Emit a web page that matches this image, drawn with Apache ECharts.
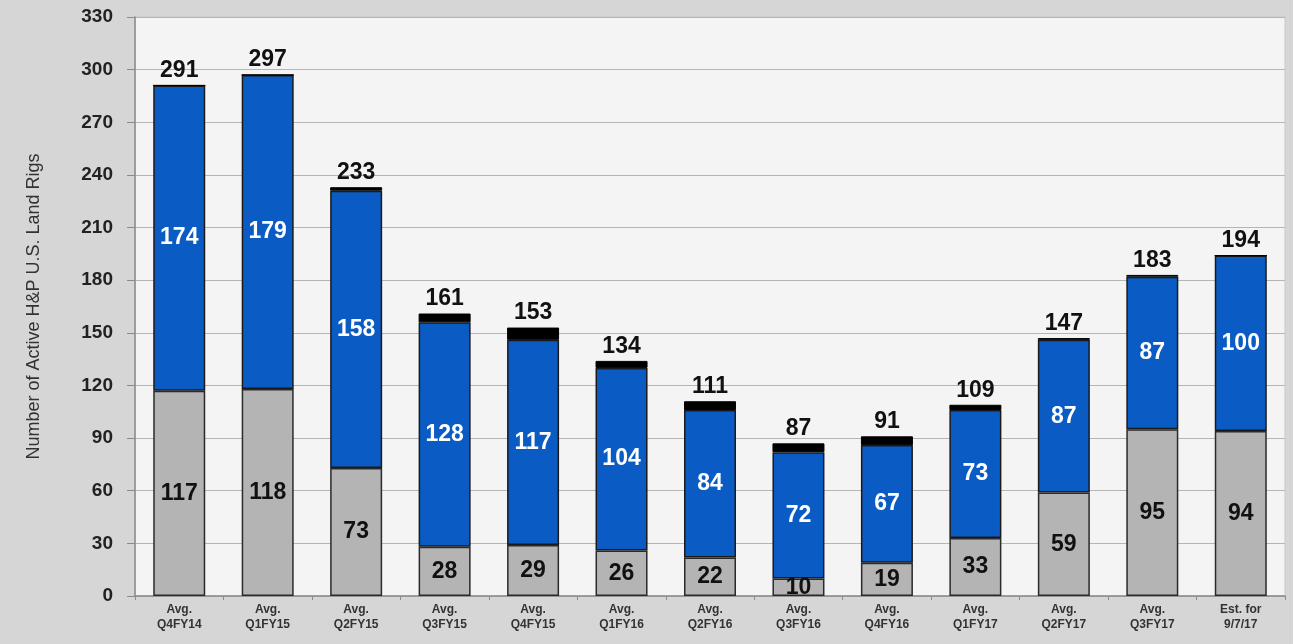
<!DOCTYPE html>
<html><head><meta charset="utf-8">
<script src="https://cdn.jsdelivr.net/npm/echarts@6/dist/echarts.min.js"></script>
<style>html,body{margin:0;padding:0;background:#d6d6d6;}#c{width:1293px;height:644px;}</style>
</head><body><div id="c"></div>
<script>
var categories = ['Avg.\nQ4FY14','Avg.\nQ1FY15','Avg.\nQ2FY15','Avg.\nQ3FY15','Avg.\nQ4FY15','Avg.\nQ1FY16','Avg.\nQ2FY16','Avg.\nQ3FY16','Avg.\nQ4FY16','Avg.\nQ1FY17','Avg.\nQ2FY17','Avg.\nQ3FY17','Est. for\n9/7/17'];
var grayValues = [117,118,73,28,29,26,22,10,19,33,59,95,94];
var blueValues = [174,179,158,128,117,104,84,72,67,73,87,87,100];
var totals = [291,297,233,161,153,134,111,87,91,109,147,183,194];
var blackValues = totals.map(function(t,i){return t - grayValues[i] - blueValues[i];});
var yTicks = [0,30,60,90,120,150,180,210,240,270,300,330];

var chart = echarts.init(document.getElementById('c'));
var font = 'Liberation Sans, Arial, sans-serif';
chart.setOption({
  backgroundColor: '#d6d6d6',
  animation: false,
  textStyle: {fontFamily: font},
  grid: {left: 135, right: 8, top: 17, bottom: 48, show: true, backgroundColor: '#f4f4f4', borderColor: '#c8c8c8', borderWidth: 1},
  xAxis: {
    type: 'category', data: categories,
    axisLine: {lineStyle: {color: '#8a8a8a', width: 1.5}},
    axisTick: {show: true, length: 4, lineStyle: {color: '#8a8a8a'}},
    axisLabel: {color: '#333', fontWeight: 'bold', fontSize: 12, lineHeight: 15, margin: 6, interval: 0}
  },
  yAxis: {
    type: 'value', min: yTicks[0], max: yTicks[yTicks.length-1], interval: 30,
    name: 'Number of Active H&P U.S. Land Rigs', nameLocation: 'middle', nameGap: 92,
    nameTextStyle: {fontSize: 18, color: '#333'},
    axisLine: {show: true, lineStyle: {color: '#8a8a8a', width: 1.5}},
    axisTick: {show: true, length: 8, inside: false, lineStyle: {color: '#8a8a8a'}},
    axisLabel: {color: '#222', fontWeight: 'bold', fontSize: 19, margin: 22},
    splitLine: {lineStyle: {color: '#b5b5b5', width: 1.2}}
  },
  series: [
    {type: 'bar', stack: 's', data: grayValues, barWidth: 52,
     itemStyle: {color: '#b4b4b4', borderColor: '#2a2a2a', borderWidth: 1.5},
     label: {show: true, position: 'inside', color: '#111', fontWeight: 'bold', fontSize: 23}},
    {type: 'bar', stack: 's', data: blueValues, barWidth: 52,
     itemStyle: {color: '#0a5cc4', borderColor: '#1a1a1a', borderWidth: 1.5},
     label: {show: true, position: 'inside', color: '#fff', fontWeight: 'bold', fontSize: 23}},
    {type: 'bar', stack: 's', data: blackValues, barWidth: 52,
     itemStyle: {color: '#000', borderColor: '#000', borderWidth: 1},
     label: {show: true, position: 'top', distance: 3, color: '#111', fontWeight: 'bold', fontSize: 23,
       formatter: function(p){return totals[p.dataIndex];}}}
  ]
});
</script></body></html>
